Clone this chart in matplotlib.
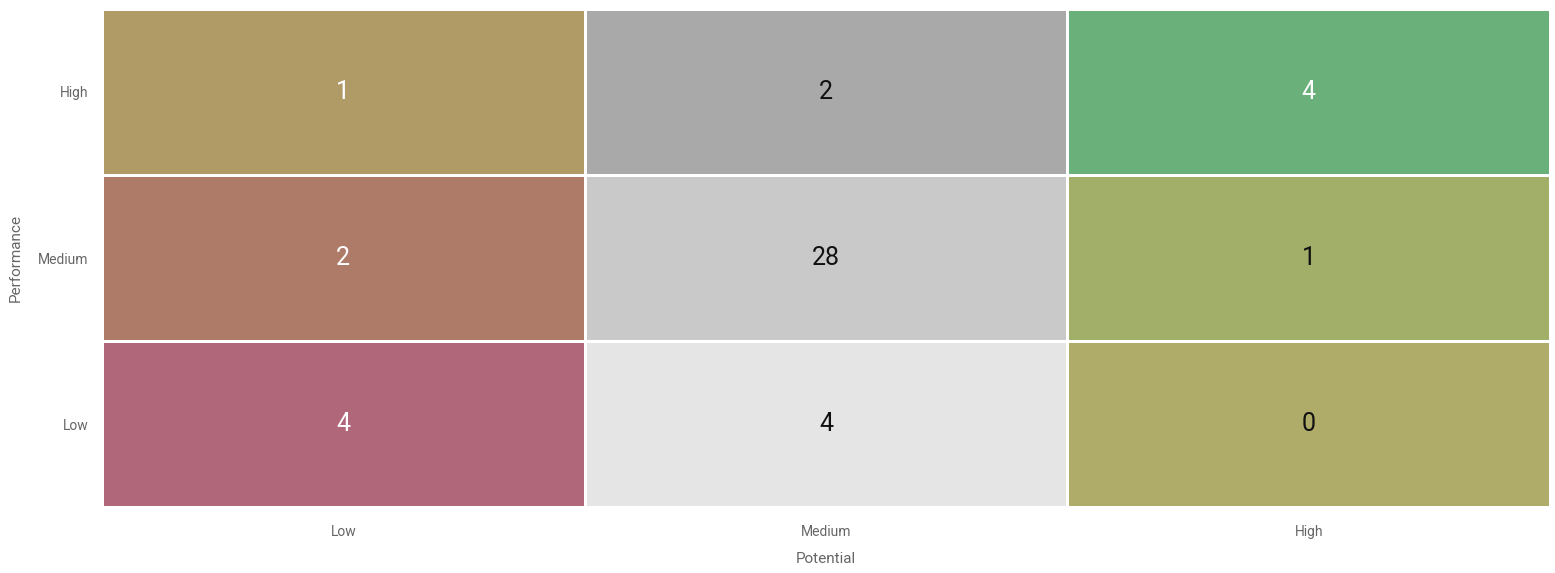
import numpy as np
import matplotlib.pyplot as plt
from matplotlib.colors import to_rgb

plt.rcParams['font.family'] = ['Roboto', 'DejaVu Sans']

potential = ["Low", "Medium", "High"]
performance = ["Low", "Medium", "High"]

# counts, rows = performance (Low, Medium, High), cols = potential
counts = [
    [4, 4, 0],
    [2, 28, 1],
    [1, 2, 4],
]

cell_colors = [
    ["#b06779", "#e5e5e5", "#afab69"],
    ["#af7b69", "#c9c9c9", "#a1af69"],
    ["#b09b67", "#a9a9a9", "#6ab07a"],
]

text_colors = [
    ["white", "#111111", "#111111"],
    ["white", "#111111", "#111111"],
    ["white", "#111111", "white"],
]

rgb = np.array([[to_rgb(c) for c in row] for row in cell_colors])

fig = plt.figure(figsize=(15.55, 5.73), dpi=100)
ax = fig.add_axes([102 / 1555, 1 - 507 / 573, 1448 / 1555, 498 / 573])

ax.pcolormesh(np.arange(4), np.arange(4), rgb, edgecolors="white", linewidth=2)

for i in range(3):
    for j in range(3):
        ax.text(j + 0.5, i + 0.5, str(counts[i][j]), ha="center", va="center",
                fontsize=18, color=text_colors[i][j])

ax.set_xlim(0, 3)
ax.set_ylim(0, 3)
ax.set_xticks(np.arange(3) + 0.5)
ax.set_xticklabels(potential)
ax.set_yticks(np.arange(3) + 0.5)
ax.set_yticklabels(performance)
ax.tick_params(length=0, labelsize=10, labelcolor="#666666")
ax.tick_params(axis="x", pad=13)
ax.tick_params(axis="y", pad=10)
for s in ax.spines.values():
    s.set_visible(False)

ax.set_xlabel("Potential", fontsize=11, color="#666666", labelpad=9)
ax.set_ylabel("Performance", fontsize=11, color="#666666", labelpad=11)

fig.savefig("out.png", dpi=100)
